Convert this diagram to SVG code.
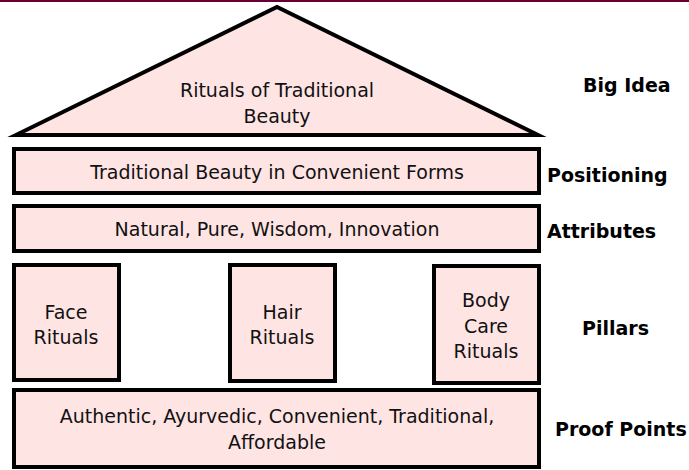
<svg xmlns="http://www.w3.org/2000/svg" width="689" height="470" viewBox="0 0 689 470">
  <style>
    .box { fill: #FFE4E4; stroke: #000; stroke-width: 4; stroke-linejoin: miter; }
    .txt { font-family: "DejaVu Sans", "Liberation Sans", sans-serif; font-size: 19px; fill: #111; text-anchor: middle; }
    .lbl { font-family: "DejaVu Sans", "Liberation Sans", sans-serif; font-size: 19px; font-weight: bold; fill: #000; }
  </style>
  <rect x="0" y="0" width="689" height="470" fill="#fff"/>
  <!-- header rule -->
  <rect x="0" y="0" width="689" height="2" fill="#660033"/>

  <g id="big-idea">
    <polygon class="box" points="16,135 277,7 538,135" stroke-miterlimit="10"/>
    <text class="txt" x="277" y="97">Rituals of Traditional</text>
    <text class="txt" x="277" y="123">Beauty</text>
  </g>

  <g id="positioning">
    <rect class="box" x="14" y="149" width="525" height="44"/>
    <text class="txt" x="277" y="179">Traditional Beauty in Convenient Forms</text>
  </g>

  <g id="attributes">
    <rect class="box" x="14" y="206" width="525" height="45"/>
    <text class="txt" x="277" y="236">Natural, Pure, Wisdom, Innovation</text>
  </g>

  <g id="pillar-face">
    <rect class="box" x="14" y="265" width="105" height="115"/>
    <text class="txt" x="66" y="319">Face</text>
    <text class="txt" x="66" y="344">Rituals</text>
  </g>

  <g id="pillar-hair">
    <rect class="box" x="230" y="265" width="105" height="116"/>
    <text class="txt" x="282" y="319">Hair</text>
    <text class="txt" x="282" y="344">Rituals</text>
  </g>

  <g id="pillar-body">
    <rect class="box" x="434" y="266" width="105" height="117"/>
    <text class="txt" x="486" y="307">Body</text>
    <text class="txt" x="486" y="333">Care</text>
    <text class="txt" x="486" y="358">Rituals</text>
  </g>

  <g id="proof-points">
    <rect class="box" x="14" y="390" width="525" height="77"/>
    <text class="txt" x="277" y="423">Authentic, Ayurvedic, Convenient, Traditional,</text>
    <text class="txt" x="277" y="449">Affordable</text>
  </g>

  <g id="level-labels">
    <text class="lbl" x="583" y="92">Big Idea</text>
    <text class="lbl" x="547" y="182">Positioning</text>
    <text class="lbl" x="547" y="238">Attributes</text>
    <text class="lbl" x="582" y="335">Pillars</text>
    <text class="lbl" x="555" y="436">Proof Points</text>
  </g>

  <g id="connectors"/>
</svg>
